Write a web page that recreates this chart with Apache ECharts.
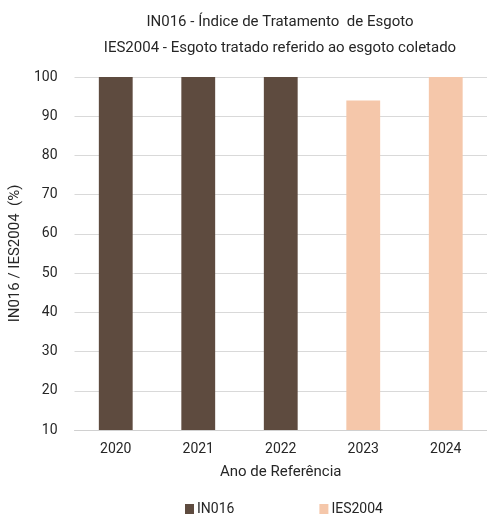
<!DOCTYPE html>
<html>
<head>
<meta charset="utf-8">
<script src="https://cdn.jsdelivr.net/npm/echarts@6/dist/echarts.min.js"></script>
<style>
  html, body { margin: 0; padding: 0; background: #fff; }
  #chart { width: 487px; height: 517px; }
</style>
</head>
<body>
<div id="chart"></div>
<script>
// Reference years and indicator values (%)
const years = ['2020', '2021', '2022', '2023', '2024'];
const in016 = [100, 100, 100, null, null];
const ies2004 = [null, null, null, 94, 100];
const yTicks = { min: 10, max: 100, step: 10 };

const FONT = '"Roboto", "Liberation Sans", sans-serif';
const TEXT = '#262626';

const chart = echarts.init(document.getElementById('chart'), null, { renderer: 'canvas' });
chart.setOption({
  animation: false,
  textStyle: { fontFamily: FONT },
  title: {
    text: 'IN016 - Índice de Tratamento  de Esgoto\nIES2004 - Esgoto tratado referido ao esgoto coletado',
    left: 275,
    top: 4,
    textAlign: 'center',
    textStyle: { fontFamily: FONT, fontSize: 15, fontWeight: 'normal', color: TEXT, lineHeight: 26 }
  },
  legend: {
    top: 497,
    left: 180,
    itemWidth: 9,
    itemHeight: 10,
    itemGap: 85,
    icon: 'rect',
    textStyle: { fontFamily: FONT, fontSize: 14, color: TEXT, padding: [0, 0, 0, -2] },
    data: ['IN016', 'IES2004']
  },
  grid: { left: 72, right: 0, top: 77, bottom: 87, containLabel: false },
  xAxis: {
    type: 'category',
    data: years,
    name: 'Ano de Referência',
    nameLocation: 'middle',
    nameGap: 35,
    nameTextStyle: { fontFamily: FONT, fontSize: 15, color: TEXT },
    axisLine: { lineStyle: { color: '#d0d0d0', width: 1 } },
    axisTick: { show: false },
    axisLabel: { fontFamily: FONT, fontSize: 14, color: TEXT, margin: 12 }
  },
  yAxis: {
    type: 'value',
    min: yTicks.min,
    max: yTicks.max,
    interval: yTicks.step,
    name: 'IN016 / IES2004  (%)',
    nameLocation: 'middle',
    nameGap: 50,
    nameRotate: 90,
    nameTextStyle: { fontFamily: FONT, fontSize: 15, color: TEXT },
    axisLine: { show: false },
    axisTick: { show: false },
    axisLabel: { fontFamily: FONT, fontSize: 14, color: TEXT, margin: 17 },
    splitLine: { lineStyle: { color: '#d9d9d9', width: 1 } }
  },
  series: [
    {
      name: 'IN016',
      type: 'bar',
      stack: 'v',
      data: in016,
      barWidth: '41%',
      itemStyle: { color: '#5e4b3f' }
    },
    {
      name: 'IES2004',
      type: 'bar',
      stack: 'v',
      data: ies2004,
      barWidth: '41%',
      itemStyle: { color: '#f5c7aa' }
    }
  ]
});
</script>
</body>
</html>
